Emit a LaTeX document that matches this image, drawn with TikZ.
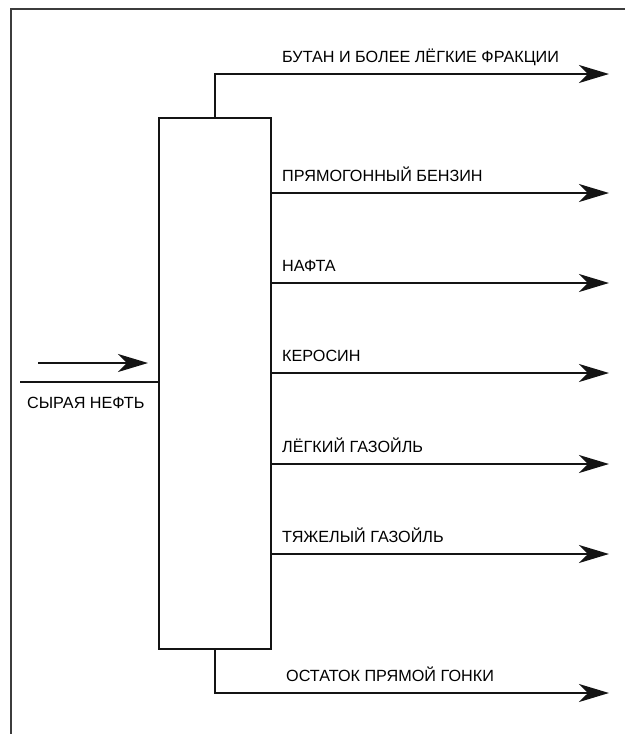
\documentclass[tikz,border=0pt]{standalone}
\usepackage{fontspec}
\setmainfont{Liberation Sans}
\usetikzlibrary{arrows.meta,calc}
\definecolor{FrameClr}{RGB}{60,60,60}
\definecolor{LineClr}{RGB}{20,20,20}

\begin{document}
\begin{tikzpicture}[x=1pt,y=-1pt,
  flow/.style={line width=1.9pt,color=LineClr,-{Stealth[length=30pt,width=18pt,inset=9pt]}},
  pipe/.style={line width=1.9pt,color=LineClr},
  lbl/.style={anchor=base west,inner sep=0pt,font=\fontsize{16.2}{19}\selectfont}]
\useasboundingbox (0,0) rectangle (625,734);

\draw[FrameClr,line width=2.5pt] (11,734) -- (11,9) -- (625,9);

\node[draw,pipe,minimum width=112pt,minimum height=531pt,inner sep=0pt] (column) at (215,383.5) {};

\coordinate (butane) at (609,74);
\coordinate (gasoline) at (609,193);
\coordinate (naphtha) at (609,283);
\coordinate (kerosene) at (609,373);
\coordinate (lightgo) at (609,464);
\coordinate (heavygo) at (609,554);
\coordinate (residue) at (609,693);

\draw[flow] (column.north) |- (butane);
\draw[flow] (column.east |- gasoline) -- (gasoline);
\draw[flow] (column.east |- naphtha) -- (naphtha);
\draw[flow] (column.east |- kerosene) -- (kerosene);
\draw[flow] (column.east |- lightgo) -- (lightgo);
\draw[flow] (column.east |- heavygo) -- (heavygo);
\draw[flow] (column.south) |- (residue);

\node[lbl] (Lbutane) at (282,62) {БУТАН И БОЛЕЕ ЛЁГКИЕ ФРАКЦИИ};
\node[lbl] (Lgasoline) at (282,181) {ПРЯМОГОННЫЙ БЕНЗИН};
\node[lbl] (Lnaphtha) at (282,271) {НАФТА};
\node[lbl] (Lkerosene) at (282,361) {КЕРОСИН};
\node[lbl] (Llightgo) at (282,452) {ЛЁГКИЙ ГАЗОЙЛЬ};
\node[lbl] (Lheavygo) at (282,542) {ТЯЖЕЛЫЙ ГАЗОЙЛЬ};
\node[lbl] (Lresidue) at (286,681) {ОСТАТОК ПРЯМОЙ ГОНКИ};

\coordinate (feed) at (20,382);
\draw[pipe] (feed) -- (feed -| column.west);
\coordinate (feedS) at (38,363);
\coordinate (feedE) at (148,363);
\draw[flow] (feedS) -- (feedE);
\node[lbl] (Lfeed) at (27,408) {СЫРАЯ НЕФТЬ};

\end{tikzpicture}
\end{document}
